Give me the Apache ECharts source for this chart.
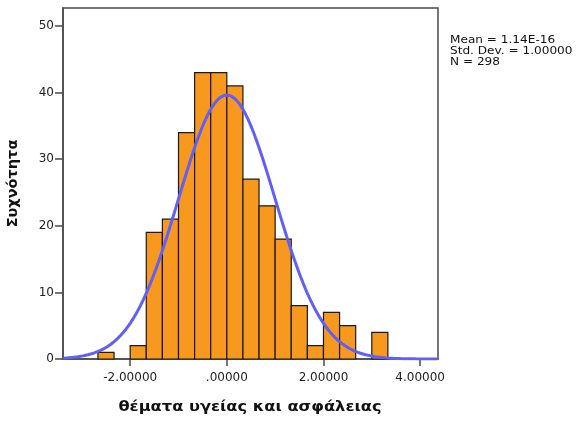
<!DOCTYPE html>
<html>
<head>
<meta charset="utf-8">
<script src="https://cdn.jsdelivr.net/npm/echarts@6/dist/echarts.min.js"></script>
<style>
  html, body { margin: 0; padding: 0; background: #fff; }
  #chart { width: 576px; height: 423px; }
</style>
</head>
<body>
<div id="chart"></div>
<script>
// Histogram bins: lower edge of each bin (width = one third) and its count
const binWidth = 1 / 3;
const binStarts = [-8/3, -7/3, -2, -5/3, -4/3, -1, -2/3, -1/3, 0, 1/3, 2/3, 1, 4/3, 5/3, 2, 7/3, 8/3, 3];
const binCounts = [1, 0, 2, 19, 21, 34, 43, 43, 41, 27, 23, 18, 8, 2, 7, 5, 0, 4];

// Summary statistics shown beside the plot
const statMean = 1.14e-16;
const statStdDev = 1.0;
const statN = 298;
const statLines = ['Mean = 1.14E-16', 'Std. Dev. = 1.00000', 'N = 298'];

// Axis ticks and titles
const xTicks = [-2, 0, 2, 4];
const xTickLabels = ['-2.00000', '.00000', '2.00000', '4.00000'];
const yTicks = [0, 10, 20, 30, 40, 50];
const xTitle = 'θέματα υγείας και ασφάλειας';
const yTitle = 'Συχνότητα';

const xMin = -3.39, xMax = 4.37, yMax = 52.7;

// Fitted normal curve scaled to counts per bin
const curve = [];
const steps = 300;
for (let i = 0; i <= steps; i++) {
  const x = xMin + (xMax - xMin) * i / steps;
  const z = (x - statMean) / statStdDev;
  const y = statN * binWidth * Math.exp(-0.5 * z * z) / (statStdDev * Math.sqrt(2 * Math.PI));
  curve.push([x, y]);
}

const bars = binStarts.map((s, i) => [s, s + binWidth, binCounts[i]]);

const chart = echarts.init(document.getElementById('chart'), null, { renderer: 'canvas' });
const axisColor = '#4a4a4a';
const labelFont = { fontFamily: 'DejaVu Sans', fontSize: 12, color: '#222' };

chart.setOption({
  animation: false,
  backgroundColor: '#fff',
  grid: {
    left: 63, right: 138, top: 8, bottom: 64,
    outerBoundsMode: 'none', containLabel: false,
    show: true, borderColor: axisColor, borderWidth: 1.5, backgroundColor: 'transparent'
  },
  xAxis: {
    type: 'value', min: xMin, max: xMax,
    splitLine: { show: false },
    axisLine: { show: true, onZero: false, lineStyle: { color: axisColor, width: 1.5 } },
    axisTick: { show: true, customValues: xTicks, length: 7, lineStyle: { color: axisColor, width: 1.5 } },
    axisLabel: {
      customValues: xTicks, margin: 13, ...labelFont,
      formatter: v => xTickLabels[xTicks.indexOf(v)]
    }
  },
  yAxis: {
    type: 'value', min: 0, max: yMax,
    splitLine: { show: false },
    axisLine: { show: true, onZero: false, lineStyle: { color: axisColor, width: 1.5 } },
    axisTick: { show: true, customValues: yTicks, length: 8, lineStyle: { color: axisColor, width: 1.5 } },
    axisLabel: { customValues: yTicks, margin: 9, ...labelFont },
    name: yTitle, nameLocation: 'middle', nameGap: 42, nameRotate: 90,
    nameTextStyle: { fontFamily: 'DejaVu Sans', fontWeight: 'bold', fontSize: 14.5, color: '#111' }
  },
  graphic: [
    {
      type: 'text', x: 450, y: 35, scaleX: 1.1,
      style: {
        text: statLines.join('\n'), fontFamily: 'DejaVu Sans', fontSize: 11,
        lineHeight: 10.8, fill: '#111'
      }
    },
    {
      type: 'text', x: 250, y: 407, scaleX: 1.12,
      style: {
        text: xTitle, fontFamily: 'DejaVu Sans', fontWeight: 'bold', fontSize: 14.5,
        fill: '#111', align: 'center', verticalAlign: 'middle'
      }
    }
  ],
  series: [
    {
      type: 'custom',
      data: bars,
      encode: { x: [0, 1], y: 2 },
      renderItem: (params, api) => {
        if (api.value(2) <= 0) return null;
        const p0 = api.coord([api.value(0), 0]);
        const p1 = api.coord([api.value(1), api.value(2)]);
        return {
          type: 'rect',
          shape: { x: p0[0], y: p1[1], width: p1[0] - p0[0], height: p0[1] - p1[1] },
          style: { fill: '#f7981f', stroke: '#1a1a1a', lineWidth: 1.2 }
        };
      },
      z: 2
    },
    {
      type: 'line',
      data: curve,
      showSymbol: false,
      symbol: 'none',
      clip: true,
      lineStyle: { color: '#6060f8', width: 3 },
      z: 3
    }
  ]
});
</script>
</body>
</html>
